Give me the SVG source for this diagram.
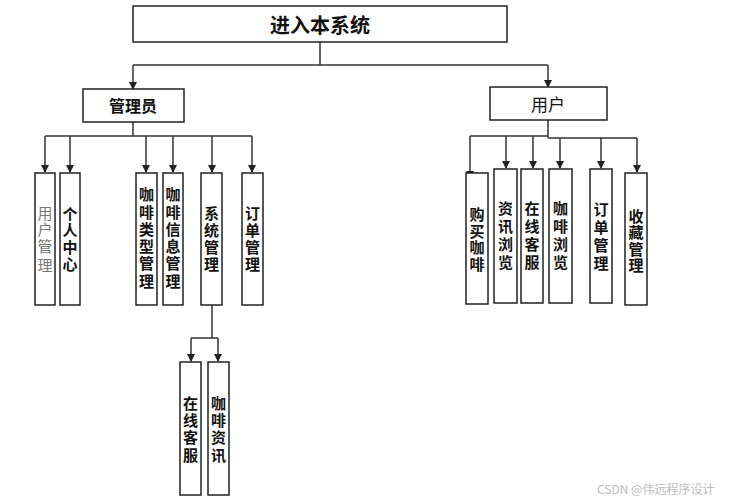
<svg xmlns="http://www.w3.org/2000/svg" width="735" height="504" viewBox="0 0 735 504">
<style>
.box{fill:#fff;stroke:#222;stroke-width:1.5}
.t{font-family:"Noto Sans CJK SC","Noto Sans",sans-serif;font-size:15px;font-weight:bold;fill:#111;text-anchor:middle;dominant-baseline:central}
.lt{font-family:"Noto Sans CJK SC","Noto Sans",sans-serif;fill:#111;text-anchor:middle;dominant-baseline:central}
.c{fill:none;stroke:#333;stroke-width:1.5}
.wm{font-family:"Noto Sans CJK SC","Noto Sans",sans-serif;font-size:12px;fill:#bbb}
</style>
<defs>
<marker id="ah" viewBox="0 0 8 8" refX="7" refY="4" markerWidth="8" markerHeight="8" markerUnits="userSpaceOnUse" orient="auto">
<path d="M0,0 L8,4 L0,8 Z" fill="#222"/>
</marker>
</defs>
<rect width="735" height="504" fill="#fff"/>
<g id="connectors">
<path class="c" d="M320,42 V65 M133,65 H548"/>
<path class="c" marker-end="url(#ah)" d="M133,65 V89"/>
<path class="c" marker-end="url(#ah)" d="M548,65 V87"/>
<path class="c" d="M133,122 V136 M45,136 H252"/>
<path class="c" marker-end="url(#ah)" d="M45,136 V172"/>
<path class="c" marker-end="url(#ah)" d="M70,136 V172"/>
<path class="c" marker-end="url(#ah)" d="M146,136 V172"/>
<path class="c" marker-end="url(#ah)" d="M173,136 V172"/>
<path class="c" marker-end="url(#ah)" d="M212,136 V172"/>
<path class="c" marker-end="url(#ah)" d="M252,136 V172"/>
<path class="c" d="M212,305 V338 M191,338 H218"/>
<path class="c" marker-end="url(#ah)" d="M191,338 V361"/>
<path class="c" marker-end="url(#ah)" d="M218,338 V361"/>
<path class="c" d="M548,120 V138 M470,136 H548 M548,138 H637"/>
<path class="c" marker-end="url(#ah)" d="M470,136 V178"/>
<path class="c" marker-end="url(#ah)" d="M506,136 V168"/>
<path class="c" marker-end="url(#ah)" d="M533,136 V168"/>
<path class="c" marker-end="url(#ah)" d="M560,138 V168"/>
<path class="c" marker-end="url(#ah)" d="M601,138 V168"/>
<path class="c" marker-end="url(#ah)" d="M637,138 V172"/>
</g>
<g id="root"><rect class="box" x="133" y="6" width="374" height="36"/><text class="lt" x="320" y="24" font-size="20" font-weight="bold">进入本系统</text></g>
<g id="admin"><rect class="box" x="83" y="89" width="101" height="33"/><text class="lt" x="133" y="105" font-size="16" font-weight="bold">管理员</text></g>
<g id="user"><rect class="box" x="490" y="87" width="117" height="33"/><text class="lt" x="548" y="103" font-size="17">用户</text></g>

<g id="a1"><rect class="box" x="35" y="173" width="20" height="132"/><text class="t" style="font-weight:normal;fill:#777"><tspan x="45" y="212">用</tspan><tspan x="45" y="228">户</tspan><tspan x="45" y="245">管</tspan><tspan x="45" y="264">理</tspan></text></g>
<g id="a2"><rect class="box" x="60" y="173" width="20" height="132"/><text class="t"><tspan x="70" y="213">个</tspan><tspan x="70" y="229">人</tspan><tspan x="70" y="246">中</tspan><tspan x="70" y="263">心</tspan></text></g>
<g id="a3"><rect class="box" x="136" y="173" width="21" height="132"/><text class="t"><tspan x="146.5" y="193">咖</tspan><tspan x="146.5" y="211">啡</tspan><tspan x="146.5" y="228">类</tspan><tspan x="146.5" y="245">型</tspan><tspan x="146.5" y="262">管</tspan><tspan x="146.5" y="280">理</tspan></text></g>
<g id="a4"><rect class="box" x="163" y="173" width="20" height="132"/><text class="t"><tspan x="173" y="193">咖</tspan><tspan x="173" y="211">啡</tspan><tspan x="173" y="228">信</tspan><tspan x="173" y="245">息</tspan><tspan x="173" y="262">管</tspan><tspan x="173" y="280">理</tspan></text></g>
<g id="a5"><rect class="box" x="201" y="173" width="21" height="132"/><text class="t"><tspan x="211.5" y="212">系</tspan><tspan x="211.5" y="229">统</tspan><tspan x="211.5" y="246">管</tspan><tspan x="211.5" y="263">理</tspan></text></g>
<g id="a6"><rect class="box" x="242" y="173" width="21" height="132"/><text class="t"><tspan x="252.5" y="212">订</tspan><tspan x="252.5" y="229">单</tspan><tspan x="252.5" y="246">管</tspan><tspan x="252.5" y="263">理</tspan></text></g>

<g id="s1"><rect class="box" x="180" y="362" width="21" height="133"/><text class="t"><tspan x="190.5" y="402">在</tspan><tspan x="190.5" y="419">线</tspan><tspan x="190.5" y="436">客</tspan><tspan x="190.5" y="454">服</tspan></text></g>
<g id="s2"><rect class="box" x="208" y="362" width="21" height="133"/><text class="t"><tspan x="218.5" y="402">咖</tspan><tspan x="218.5" y="419">啡</tspan><tspan x="218.5" y="436">资</tspan><tspan x="218.5" y="454">讯</tspan></text></g>

<g id="u1"><rect class="box" x="466" y="173" width="22" height="131"/><text class="t"><tspan x="477" y="213">购</tspan><tspan x="477" y="230">买</tspan><tspan x="477" y="246">咖</tspan><tspan x="477" y="263">啡</tspan></text></g>
<g id="u2"><rect class="box" x="494" y="169" width="23" height="134"/><text class="t"><tspan x="505.5" y="207">资</tspan><tspan x="505.5" y="225">讯</tspan><tspan x="505.5" y="243">浏</tspan><tspan x="505.5" y="261">览</tspan></text></g>
<g id="u3"><rect class="box" x="521" y="169" width="22" height="134"/><text class="t"><tspan x="532" y="207">在</tspan><tspan x="532" y="225">线</tspan><tspan x="532" y="243">客</tspan><tspan x="532" y="261">服</tspan></text></g>
<g id="u4"><rect class="box" x="549" y="169" width="23" height="134"/><text class="t"><tspan x="560.5" y="207">咖</tspan><tspan x="560.5" y="225">啡</tspan><tspan x="560.5" y="243">浏</tspan><tspan x="560.5" y="261">览</tspan></text></g>
<g id="u5"><rect class="box" x="590" y="169" width="22" height="134"/><text class="t"><tspan x="601" y="208">订</tspan><tspan x="601" y="226">单</tspan><tspan x="601" y="244">管</tspan><tspan x="601" y="262">理</tspan></text></g>
<g id="u6"><rect class="box" x="625" y="173" width="22" height="132"/><text class="t"><tspan x="636" y="215">收</tspan><tspan x="636" y="231">藏</tspan><tspan x="636" y="248">管</tspan><tspan x="636" y="264">理</tspan></text></g>

<text class="wm" x="597" y="494">CSDN @伟远程序设计</text>
</svg>
